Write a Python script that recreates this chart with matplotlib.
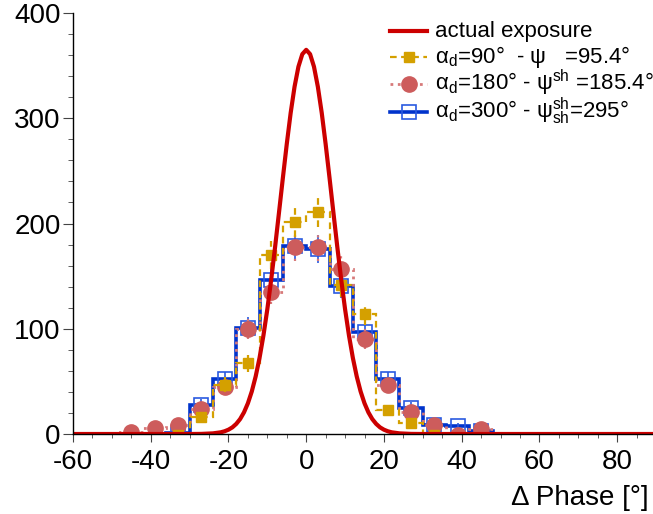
import numpy as np
import matplotlib
matplotlib.use('Agg')
import matplotlib.pyplot as plt
from matplotlib.lines import Line2D
from matplotlib.ticker import MultipleLocator

plt.rcParams['font.family'] = ['Liberation Sans', 'DejaVu Sans']
plt.rcParams['mathtext.fontset'] = 'custom'
plt.rcParams['mathtext.rm'] = 'Liberation Sans'
plt.rcParams['mathtext.it'] = 'Liberation Sans:italic'
plt.rcParams['mathtext.bf'] = 'Liberation Sans:bold'
plt.rcParams['axes.unicode_minus'] = False

nan = np.nan

# ---- data ----
bin_edges = [-48, -42, -36, -30, -24, -18, -12, -6, 0, 6, 12, 18, 24, 30, 36, 42, 48]
bin_centers = [-45, -39, -33, -27, -21, -15, -9, -3, 3, 9, 15, 21, 27, 33, 39, 45]

counts_90 = [nan, nan, -1, 16, 47, 67, 170, 201, 211, 142, 114, 23, 10, -1, nan, nan]
err_90 = [0, 0, 1, 4.0, 6.9, 8.2, 13.0, 14.2, 14.5, 11.9, 10.7, 4.8, 3.2, 1, 0, 0]

counts_180 = [2, 6, 9, 24, 45, 100, 135, 178, 178, 157, 90, 47, 21, 9, -1, 5]
err_180 = [1.4, 2.4, 3.0, 4.9, 6.7, 10.0, 11.6, 13.3, 13.3, 12.5, 9.5, 6.9, 4.6, 3.0, 1, 2.2]

counts_300 = [nan, nan, 1, 28, 52, 101, 146, 179, 176, 141, 97, 52, 25, 9, 8, 3]
err_300 = [0, 0, 1, 5.3, 7.2, 10.0, 12.1, 13.4, 13.3, 11.9, 9.8, 7.2, 5.0, 3.0, 2.8, 1.7]

exposure_x = [-60, -30, -27, -24, -22, -21, -20, -19, -18, -17, -16, -15, -14, -13, -12,
              -11, -10, -9, -8, -7, -6, -5, -4, -3, -2, -1, 0,
              1, 2, 3, 4, 5, 6, 7, 8, 9, 10, 11, 12, 13, 14, 15, 16, 17, 18, 19, 20,
              21, 22, 24, 27, 30, 90]
exposure_y = [0, 0, 0.1, 0.6, 1.6, 2.6, 4.1, 6.3, 9.6, 14.2, 20.6, 29.2, 40.4, 54.7, 72.4,
              93.7, 118.6, 146.9, 177.8, 210.4, 243.4, 275.5, 305.0, 329.9, 349.0, 360.9, 365,
              360.9, 349.0, 329.9, 305.0, 275.5, 243.4, 210.4, 177.8, 146.9, 118.6, 93.7, 72.4,
              54.7, 40.4, 29.2, 20.6, 14.2, 9.6, 6.3, 4.1, 2.6, 1.6, 0.6, 0.1, 0, 0]

labels = ['actual exposure',
          r'α$_{\rm d}$=90°  - ψ   =95.4°',
          r'α$_{\rm d}$=180° - ψ$^{\rm sh}$ =185.4°',
          r'α$_{\rm d}$=300° - ψ$^{\rm sh}_{\rm sh}$=295°']

# ---- styles ----
c_exp = '#cc0000'
c_90 = '#d4a000'
c_180 = '#cd5c5c'
c_180_line = '#d77a7a'
c_300 = '#0033cc'
c_300_mk = '#2a5ae0'

W, H = 653, 514
fig = plt.figure(figsize=(W / 100, H / 100), dpi=100)
ax = fig.add_axes([73 / W, 80 / H, (656 - 73) / W, (434 - 13) / H])

# blue series (300)
v300 = np.array(counts_300, dtype=float)
ax.stairs(np.nan_to_num(v300), bin_edges, color=c_300, lw=2.6, zorder=2)
eb = ax.errorbar(bin_centers, v300, yerr=err_300, fmt='none', ecolor=c_300_mk,
                 elinewidth=1.2, zorder=2)
ax.plot(bin_centers, v300, ls='none', marker='s', ms=10.5, mfc='none',
        mec=c_300_mk, mew=1.2, zorder=3)

# red-ish series (180)
v180 = np.array(counts_180, dtype=float)
ax.stairs(np.nan_to_num(v180), bin_edges, color=c_180_line, lw=2.0, ls=':', zorder=4)
eb = ax.errorbar(bin_centers, v180, yerr=err_180, fmt='none', ecolor=c_180_line,
                 elinewidth=1.6, zorder=4)
eb[2][0].set_linestyle(':')
ax.plot(bin_centers, v180, ls='none', marker='o', ms=11, mfc=c_180, mec=c_180,
        zorder=5)

# yellow series (90)
v90 = np.array(counts_90, dtype=float)
ax.stairs(np.nan_to_num(v90), bin_edges, color=c_90, lw=1.6, ls=(0, (3, 2)), zorder=6)
eb = ax.errorbar(bin_centers, v90, yerr=err_90, fmt='none', ecolor=c_90,
                 elinewidth=1.6, zorder=6)
eb[2][0].set_linestyle((0, (3, 2)))
ax.plot(bin_centers, v90, ls='none', marker='s', ms=7, mfc=c_90, mec=c_90, zorder=7)

# exposure
ax.plot(exposure_x, exposure_y, color=c_exp, lw=3, zorder=8, solid_capstyle='butt')

ax.set_xlim(-60, 90)
ax.set_ylim(0, 400)
for s in ['top', 'right']:
    ax.spines[s].set_visible(False)
for s in ['left', 'bottom']:
    ax.spines[s].set_linewidth(1.0)
    ax.spines[s].set_zorder(9)

ax.xaxis.set_major_locator(MultipleLocator(20))
ax.xaxis.set_minor_locator(MultipleLocator(5))
ax.yaxis.set_major_locator(MultipleLocator(100))
ax.yaxis.set_minor_locator(MultipleLocator(20))
ax.tick_params(which='both', direction='out', labelsize=20, color='#444444')
ax.tick_params(axis='y', which='major', length=7.5, pad=1.5)
ax.tick_params(axis='y', which='minor', length=3.6)
ax.tick_params(axis='x', which='major', length=5.5, pad=5)
ax.tick_params(axis='x', which='minor', length=3)

ax.set_xlabel('Δ Phase [°]', fontsize=20)
ax.xaxis.label.set_ha('right')
ax.xaxis.label.set_va('baseline')
ax.xaxis.set_label_coords((649 - 73) / (656 - 73), -(505 - 434) / (434 - 13))

# ---- legend (laid out row by row, ROOT-like) ----
handle_styles = [
    dict(color=c_exp, lw=3),
    dict(color=c_90, lw=1.6, ls=(0, (3, 2)), marker='s', ms=7, mfc=c_90, mec=c_90),
    dict(color=c_180_line, lw=2.0, ls=':', marker='o', ms=11, mfc=c_180, mec=c_180),
    dict(color=c_300, lw=2.6, marker='s', ms=10.5, mfc='none', mec=c_300_mk, mew=1.2),
]
row_baselines = [37, 63.5, 90.5, 118]
hx0, hx1, tx = 390, 427, 435
for lab, st, yb in zip(labels, handle_styles, row_baselines):
    yc = yb - 6.5
    fy = (H - yc) / H
    st = dict(st)
    marker = st.pop('marker', None)
    ms = st.pop('ms', None)
    mfc = st.pop('mfc', None)
    mec = st.pop('mec', None)
    mew = st.pop('mew', 1.0)
    fig.add_artist(Line2D([hx0 / W, hx1 / W], [fy, fy], transform=fig.transFigure, **st))
    if marker:
        fig.add_artist(Line2D([(hx0 + hx1) / 2 / W], [fy], transform=fig.transFigure,
                              ls='none', marker=marker, ms=ms, mfc=mfc, mec=mec, mew=mew))
    fig.text(tx / W, (H - yb) / H, lab, fontsize=16, ha='left', va='baseline')

fig.savefig('out.png', dpi=100)
